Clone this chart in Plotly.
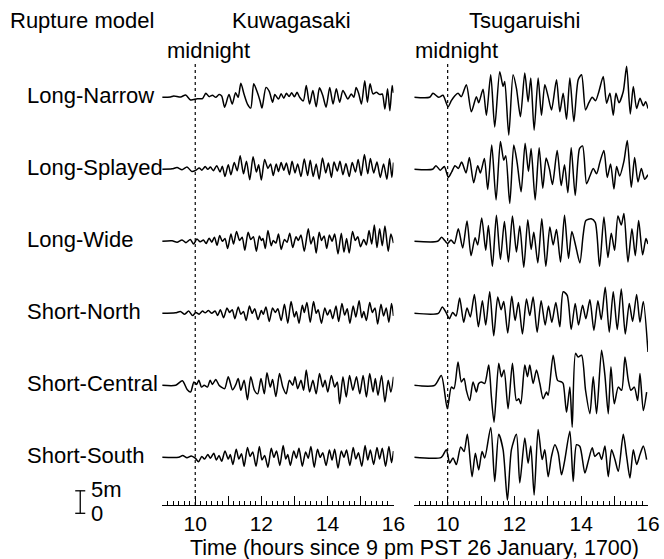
import plotly.graph_objects as go

# ---------------- data (time in hours, sea level in metres) ----------------
models = ["Long-Narrow", "Long-Splayed", "Long-Wide", "Short-North", "Short-Central", "Short-South"]
stations = ["Kuwagasaki", "Tsugaruishi"]
tick_hours = [9, 10, 11, 12, 13, 14, 15, 16]
tick_text = ["", "10", "", "12", "", "14", "", "16"]

# Kuwagasaki
kuw_ln_t = [9.0, 9.25, 9.35, 9.56, 9.71, 9.86, 10.06, 10.22, 10.32, 10.42, 10.52, 10.62, 10.72, 10.8, 10.89, 11.02, 11.12, 11.22, 11.3, 11.38, 11.48, 11.58, 11.68, 11.77, 11.87, 11.96, 12.02, 12.14, 12.24, 12.34, 12.41, 12.52, 12.6, 12.68, 12.76, 12.84, 12.92, 13.0, 13.08, 13.16, 13.27, 13.36, 13.46, 13.56, 13.66, 13.76, 13.86, 13.96, 14.07, 14.17, 14.27, 14.37, 14.47, 14.62, 14.72, 14.8, 14.87, 14.95, 15.03, 15.13, 15.21, 15.29, 15.38, 15.48, 15.59, 15.66, 15.74, 15.82, 15.89, 15.96, 16.0]
kuw_ln_h = [0.0, 0.07, 0.3, 0.07, 0.5, -0.6, -0.3, -0.3, 0.9, 0.15, 0.45, 0.0, 0.6, 0.3, -2.2, 0.6, -1.5, 1.0, 0.0, 3.1, 0.6, -1.5, -2.4, 3.0, 1.3, -0.75, -2.4, 2.2, 1.3, -1.1, 0.6, -0.4, 0.8, -0.2, 0.9, 0.2, 1.0, 0.1, 1.1, 0.0, -0.8, 2.6, -1.5, 1.5, -2.1, 2.1, 0.4, -2.2, 2.2, -1.5, 1.9, -1.1, 1.5, -0.4, 0.75, 0.0, 2.2, 0.75, -1.5, 3.7, -1.1, 3.0, 0.75, 1.1, 0.6, 0.75, -2.6, 1.9, -3.0, 2.6, 1.0]

kuw_ls_t = [9.0, 9.3, 9.45, 9.6, 9.75, 9.9, 10.02, 10.12, 10.2, 10.3, 10.38, 10.46, 10.55, 10.65, 10.75, 10.82, 10.9, 11.0, 11.08, 11.18, 11.27, 11.36, 11.46, 11.55, 11.65, 11.75, 11.85, 11.92, 12.0, 12.1, 12.2, 12.28, 12.36, 12.45, 12.52, 12.6, 12.68, 12.76, 12.85, 12.93, 13.02, 13.1, 13.2, 13.3, 13.4, 13.48, 13.57, 13.66, 13.75, 13.85, 13.95, 14.03, 14.12, 14.2, 14.3, 14.38, 14.47, 14.56, 14.66, 14.75, 14.85, 14.93, 15.02, 15.12, 15.22, 15.3, 15.4, 15.5, 15.6, 15.7, 15.8, 15.88, 15.95, 16.0]
kuw_ls_h = [0.0, 0.1, 0.4, -0.1, 0.5, -0.5, -0.2, 0.3, -0.2, 0.6, 0.0, 0.5, -0.3, 0.8, -0.6, 0.7, -1.6, 1.0, -1.2, 1.5, -0.3, 3.0, -1.0, 1.8, -2.3, 2.8, -0.6, 1.0, -2.4, 2.2, 0.2, 1.2, -1.4, 1.2, -0.5, 1.5, -0.2, 1.4, -1.2, 1.8, -0.8, 1.2, -1.6, 2.3, -1.4, 2.0, -1.6, 1.2, -2.2, 2.5, -0.8, 1.4, -1.8, 1.6, -0.4, 1.8, -1.2, 1.3, -1.6, 1.5, -0.6, 2.2, -1.4, 3.3, -1.0, 2.4, -0.8, 1.6, -1.8, 1.2, -2.2, 2.4, -1.8, 1.5]

kuw_lw_t = [9.0, 9.3, 9.45, 9.6, 9.72, 9.85, 9.95, 10.05, 10.15, 10.25, 10.33, 10.42, 10.5, 10.58, 10.66, 10.74, 10.82, 10.9, 10.98, 11.08, 11.16, 11.25, 11.34, 11.42, 11.5, 11.6, 11.68, 11.76, 11.85, 11.94, 12.0, 12.05, 12.12, 12.2, 12.3, 12.36, 12.44, 12.52, 12.6, 12.7, 12.78, 12.86, 12.95, 13.05, 13.12, 13.2, 13.3, 13.42, 13.5, 13.58, 13.66, 13.75, 13.82, 13.9, 13.98, 14.06, 14.14, 14.22, 14.32, 14.42, 14.5, 14.58, 14.66, 14.76, 14.84, 14.92, 15.0, 15.1, 15.18, 15.26, 15.34, 15.42, 15.5, 15.58, 15.66, 15.74, 15.84, 15.92, 16.0]
kuw_lw_h = [0.0, 0.1, -0.2, 0.3, -0.3, 0.4, -0.6, 0.5, -0.1, 0.3, -0.5, 0.7, -0.2, 0.9, -0.9, 1.3, 0.0, 0.6, -1.6, 1.6, -0.6, 2.2, 0.2, 0.9, -2.0, 2.0, 0.4, 1.0, -2.2, 1.2, 0.2, 0.6, -1.6, 2.4, -1.0, 0.2, -0.4, 1.6, -1.8, 0.4, -0.2, 1.8, -1.4, 1.0, 0.2, 1.4, -2.2, 2.8, -0.6, 1.0, -2.6, 2.0, 0.2, 1.2, -1.6, 1.4, 0.0, 1.6, -2.8, 1.8, -2.4, 0.6, -2.6, 2.2, 0.2, 1.0, -1.2, 0.4, -0.8, 2.4, -0.6, 3.6, -1.4, 2.8, -1.0, 3.4, -2.2, 1.6, -0.4]

kuw_sn_t = [9.0, 9.4, 9.55, 9.68, 9.8, 9.92, 10.02, 10.12, 10.22, 10.3, 10.4, 10.5, 10.6, 10.68, 10.76, 10.86, 10.96, 11.04, 11.12, 11.2, 11.3, 11.38, 11.46, 11.54, 11.64, 11.72, 11.8, 11.9, 12.0, 12.06, 12.14, 12.24, 12.34, 12.42, 12.5, 12.6, 12.7, 12.8, 12.9, 13.0, 13.06, 13.14, 13.24, 13.3, 13.38, 13.48, 13.58, 13.66, 13.72, 13.82, 13.92, 14.0, 14.08, 14.16, 14.26, 14.34, 14.44, 14.52, 14.6, 14.68, 14.78, 14.86, 14.96, 15.04, 15.1, 15.18, 15.28, 15.36, 15.44, 15.52, 15.62, 15.7, 15.78, 15.86, 15.94, 16.0]
kuw_sn_h = [0.0, 0.1, 0.4, -0.2, 0.5, -0.5, 0.2, -0.2, 0.5, 0.1, 0.6, 0.0, 0.5, -0.5, 0.8, -1.0, 1.2, 0.2, 0.8, -1.2, 1.4, -0.2, 0.4, -1.6, 1.6, 0.0, 1.0, -1.4, 0.6, -0.2, 1.4, -1.8, 1.2, 0.2, 1.0, -1.6, 2.0, -2.2, 2.6, -0.8, 0.4, -2.2, 1.8, 0.2, 2.4, -2.0, 2.6, 0.0, 0.8, -2.2, 1.2, -0.4, 0.8, -1.2, 1.6, -1.8, 2.2, -0.4, 1.0, -2.2, 1.6, -0.8, 2.8, -1.0, 0.4, -1.6, 2.4, 0.2, 1.2, -2.4, 2.0, -0.6, 1.2, -2.0, 2.2, -0.6]

kuw_sc_t = [9.0, 9.41, 9.61, 9.76, 9.86, 9.96, 10.04, 10.11, 10.19, 10.27, 10.37, 10.45, 10.52, 10.62, 10.72, 10.79, 10.89, 11.0, 11.13, 11.23, 11.3, 11.38, 11.48, 11.58, 11.68, 11.79, 11.89, 11.99, 12.09, 12.17, 12.27, 12.34, 12.44, 12.55, 12.65, 12.75, 12.85, 12.95, 13.02, 13.1, 13.2, 13.28, 13.36, 13.46, 13.56, 13.66, 13.76, 13.86, 13.93, 14.01, 14.12, 14.22, 14.3, 14.37, 14.47, 14.57, 14.67, 14.77, 14.88, 14.98, 15.08, 15.18, 15.28, 15.38, 15.45, 15.53, 15.64, 15.74, 15.84, 15.92, 16.0]
kuw_sc_h = [0.0, 0.0, 1.0, -1.0, -1.5, 0.75, 0.2, 1.1, -0.4, 0.0, -0.4, 1.1, 0.2, 1.3, 0.0, -0.4, -0.75, 1.9, -1.0, 0.2, 1.5, -1.1, 1.1, -3.2, 1.9, -1.1, -1.9, 1.5, -1.9, 2.8, -0.4, 1.3, -2.5, 2.6, -0.4, -1.9, 1.1, 0.0, 1.9, -0.75, 1.1, -1.1, 3.4, -1.5, 1.1, -1.9, 2.6, -0.4, 1.1, -1.5, 2.2, -0.4, 0.75, -4.1, 1.9, -2.6, 2.2, -1.1, 1.9, -1.9, 2.2, -2.6, 2.6, -1.5, 1.5, -2.2, 2.2, -3.7, 1.1, -1.5, 1.9]

kuw_ss_t = [9.0, 9.5, 9.62, 9.75, 9.88, 10.0, 10.1, 10.2, 10.28, 10.38, 10.46, 10.56, 10.64, 10.72, 10.8, 10.9, 11.0, 11.06, 11.14, 11.24, 11.32, 11.4, 11.48, 11.58, 11.66, 11.74, 11.84, 11.94, 12.02, 12.1, 12.2, 12.3, 12.38, 12.46, 12.56, 12.66, 12.74, 12.8, 12.88, 12.98, 13.06, 13.14, 13.24, 13.34, 13.42, 13.5, 13.6, 13.7, 13.78, 13.86, 13.96, 14.06, 14.14, 14.22, 14.32, 14.42, 14.5, 14.58, 14.68, 14.78, 14.86, 14.94, 15.04, 15.14, 15.22, 15.3, 15.4, 15.5, 15.58, 15.66, 15.76, 15.86, 15.94, 16.0]
kuw_ss_h = [0.0, 0.0, 0.4, -0.1, 0.3, -0.2, -1.0, 0.2, -0.4, 0.6, -0.2, 0.9, -0.6, 0.4, -0.9, 1.4, -0.4, 0.6, -1.6, 1.8, -0.4, 0.8, -2.0, 2.2, 0.2, 1.2, -2.0, 2.4, -0.6, 0.4, -2.2, 2.0, 0.0, 1.4, -1.8, 2.6, -0.4, 0.6, -1.8, 1.4, -0.2, 2.0, -2.0, 1.2, -0.2, 2.4, -2.2, 1.8, 0.0, 1.0, -1.8, 1.6, -0.6, 1.8, -2.4, 1.4, 0.0, 1.6, -1.8, 2.2, -0.4, 1.0, -2.0, 2.6, -0.6, 1.6, -1.6, 2.2, -0.4, 2.0, -2.0, 2.4, -1.2, 1.4]

# Tsugaruishi
tsu_ln_t = [9.0, 9.46, 9.56, 9.73, 9.86, 10.01, 10.11, 10.21, 10.31, 10.41, 10.56, 10.71, 10.86, 10.93, 11.06, 11.16, 11.29, 11.41, 11.56, 11.66, 11.71, 11.83, 11.96, 12.06, 12.18, 12.31, 12.41, 12.49, 12.59, 12.71, 12.81, 12.91, 13.01, 13.11, 13.26, 13.36, 13.46, 13.56, 13.66, 13.78, 13.91, 14.01, 14.13, 14.23, 14.33, 14.43, 14.53, 14.66, 14.76, 14.86, 14.96, 15.04, 15.13, 15.26, 15.36, 15.47, 15.56, 15.66, 15.76, 15.86, 15.93, 16.0]
tsu_ln_h = [0.0, 0.0, 0.9, 0.0, 0.45, -2.1, -0.75, 0.3, 0.9, 0.15, 2.8, -3.2, 0.15, -1.2, 1.8, -4.0, 5.0, -6.6, 5.7, 2.4, 3.5, -8.4, 5.0, 2.0, -4.3, 5.4, -1.0, 4.3, -7.3, 4.3, -4.0, 2.8, 0.15, -2.8, 3.9, -3.2, 0.9, -4.9, 4.3, -5.4, 3.9, 5.0, -2.8, -1.2, 0.0, -0.75, 1.3, 4.6, -1.3, 0.9, -4.0, 0.9, -1.2, 1.3, 6.9, -3.7, 2.4, -2.5, -0.2, -1.9, -1.0, -2.5]

tsu_ls_t = [9.0, 9.55, 9.65, 9.78, 9.9, 10.02, 10.12, 10.22, 10.32, 10.42, 10.55, 10.65, 10.78, 10.9, 10.98, 11.1, 11.2, 11.32, 11.45, 11.58, 11.68, 11.74, 11.86, 11.98, 12.08, 12.2, 12.32, 12.42, 12.5, 12.62, 12.74, 12.85, 12.95, 13.05, 13.14, 13.28, 13.4, 13.5, 13.6, 13.7, 13.82, 13.95, 14.04, 14.16, 14.26, 14.36, 14.46, 14.56, 14.68, 14.78, 14.88, 14.98, 15.06, 15.15, 15.28, 15.38, 15.5, 15.6, 15.7, 15.8, 15.9, 16.0]
tsu_ls_h = [0.0, 0.0, 0.8, -0.2, 0.6, -1.8, -0.6, 0.8, 0.2, 1.6, -0.8, 2.6, -3.0, 0.8, -0.8, 2.4, -4.5, 5.4, -6.8, 6.2, 2.0, 3.0, -7.6, 5.4, 1.5, -5.0, 5.8, -0.5, 4.6, -6.8, 4.8, -4.2, 2.5, 0.0, -3.4, 4.2, -3.6, 1.0, -5.2, 4.8, -5.8, 4.6, 5.2, -3.2, -1.5, 0.2, -1.0, 1.6, 4.2, -1.8, 1.2, -4.4, 0.6, -1.5, 1.8, 6.4, -4.0, 2.6, -2.8, 0.2, -2.2, -1.2]

tsu_lw_t = [9.0, 9.7, 9.82, 9.92, 10.0, 10.1, 10.2, 10.32, 10.45, 10.58, 10.7, 10.82, 10.9, 11.02, 11.14, 11.22, 11.34, 11.46, 11.58, 11.7, 11.82, 11.94, 12.06, 12.16, 12.28, 12.4, 12.5, 12.58, 12.7, 12.82, 12.94, 13.06, 13.16, 13.26, 13.38, 13.5, 13.62, 13.72, 13.84, 13.96, 14.06, 14.14, 14.3, 14.42, 14.55, 14.68, 14.8, 14.9, 15.0, 15.1, 15.2, 15.28, 15.4, 15.52, 15.62, 15.72, 15.84, 15.94, 16.0]
tsu_lw_h = [0.0, 0.0, 0.9, 0.1, -0.5, 0.3, -0.5, 2.8, -1.5, 4.5, -3.2, 0.8, -0.8, 5.2, -2.0, 3.5, -5.6, 5.8, -4.0, 4.4, -4.6, 5.6, -2.4, 3.4, -5.8, 4.8, -1.8, 2.0, -4.8, 5.0, -5.6, 3.2, -0.8, 2.6, -4.6, 5.8, -3.8, 2.2, -1.2, -4.8, 1.5, 4.6, 5.0, 4.2, -5.6, 5.4, -3.6, 1.8, -2.0, 5.6, 3.6, 6.2, -4.6, 2.8, -3.2, 4.6, -3.0, 0.6, -0.6]

tsu_sn_t = [9.0, 9.72, 9.84, 9.95, 10.05, 10.15, 10.25, 10.36, 10.48, 10.58, 10.68, 10.8, 10.92, 11.04, 11.14, 11.26, 11.38, 11.5, 11.6, 11.68, 11.8, 11.92, 12.02, 12.12, 12.24, 12.36, 12.46, 12.56, 12.68, 12.8, 12.92, 13.02, 13.12, 13.24, 13.36, 13.46, 13.58, 13.7, 13.82, 13.92, 14.04, 14.14, 14.26, 14.38, 14.5, 14.6, 14.72, 14.84, 14.96, 15.08, 15.2, 15.32, 15.44, 15.54, 15.66, 15.76, 15.86, 16.0]
tsu_sn_h = [0.0, 0.0, 1.4, 0.2, -1.2, 0.2, -0.6, 3.4, -2.0, 1.2, -0.8, 4.2, -3.0, 2.8, -2.6, 4.8, -5.0, 3.6, 0.8, 2.6, -4.4, 3.8, -1.6, 2.4, -4.6, 3.2, -0.5, 3.6, -4.2, 2.8, -2.6, 1.6, -2.0, 2.4, -3.0, 4.8, 4.0, -3.6, 2.2, -2.6, 1.8, -1.2, 3.0, -3.8, 2.8, -1.4, 5.8, -4.2, 4.8, -3.6, 5.4, -4.6, 2.2, -1.8, 4.2, -2.0, 2.6, -8.6]

tsu_sc_t = [9.0, 9.61, 9.81, 9.99, 10.11, 10.19, 10.31, 10.41, 10.49, 10.56, 10.66, 10.76, 10.86, 10.93, 11.01, 11.11, 11.23, 11.31, 11.39, 11.53, 11.61, 11.69, 11.81, 11.94, 12.06, 12.13, 12.19, 12.31, 12.39, 12.46, 12.56, 12.66, 12.76, 12.86, 12.96, 13.01, 13.16, 13.29, 13.41, 13.46, 13.56, 13.66, 13.73, 13.83, 13.91, 14.01, 14.13, 14.26, 14.36, 14.46, 14.61, 14.71, 14.81, 14.89, 14.99, 15.11, 15.21, 15.31, 15.41, 15.49, 15.59, 15.69, 15.76, 15.86, 15.96]
tsu_sc_h = [0.0, 0.0, 2.2, -5.2, -0.4, -0.75, 5.2, 0.75, 1.5, -1.1, -3.4, 0.75, -1.5, 0.4, 0.75, 0.4, 4.5, -2.6, -8.2, 4.9, 1.9, 3.4, -5.2, 4.9, -3.4, -3.0, -4.1, 4.5, 1.9, 4.5, 0.4, 3.4, 0.4, -3.0, -1.5, -2.2, 6.7, 1.1, 0.75, 0.4, -6.0, -0.4, -9.3, 7.1, 6.3, 6.7, -1.1, -6.3, 1.9, -6.3, 7.8, 2.2, -6.3, 4.1, -4.1, -0.4, -1.1, 6.3, 1.1, -1.1, -0.4, -3.4, 2.6, -5.6, -1.5]

tsu_ss_t = [9.0, 9.81, 9.96, 10.06, 10.16, 10.26, 10.39, 10.49, 10.59, 10.73, 10.83, 10.93, 11.03, 11.11, 11.29, 11.41, 11.53, 11.66, 11.79, 11.91, 12.06, 12.16, 12.31, 12.41, 12.49, 12.59, 12.71, 12.83, 12.91, 13.01, 13.11, 13.21, 13.31, 13.41, 13.51, 13.66, 13.76, 13.86, 13.96, 14.11, 14.21, 14.33, 14.41, 14.53, 14.61, 14.71, 14.81, 14.91, 15.01, 15.11, 15.26, 15.36, 15.46, 15.56, 15.66, 15.76, 15.86, 15.96]
tsu_ss_h = [0.0, 0.0, 1.7, -1.3, -0.15, -1.6, 2.3, 1.3, 5.1, -4.3, 0.9, -2.8, 1.3, -0.15, 6.6, -5.4, 5.1, 1.7, -9.5, 1.7, 5.1, -5.7, 4.3, -1.3, 2.5, -8.4, 6.2, -0.5, 1.7, -4.3, 0.2, 2.8, 1.0, -3.9, -0.5, 5.8, -5.4, 2.8, 2.4, -3.5, -0.9, 2.1, 0.2, 1.0, -0.5, 2.5, -4.3, 1.7, -0.5, -3.1, 5.1, 0.2, -4.6, 1.7, -1.6, 0.6, 2.5, -0.5]

kuw_series = [(kuw_ln_t, kuw_ln_h), (kuw_ls_t, kuw_ls_h), (kuw_lw_t, kuw_lw_h),
              (kuw_sn_t, kuw_sn_h), (kuw_sc_t, kuw_sc_h), (kuw_ss_t, kuw_ss_h)]
tsu_series = [(tsu_ln_t, tsu_ln_h), (tsu_ls_t, tsu_ls_h), (tsu_lw_t, tsu_lw_h),
              (tsu_sn_t, tsu_sn_h), (tsu_sc_t, tsu_sc_h), (tsu_ss_t, tsu_ss_h)]

row_gap = 16.0        # metres between stacked traces
scale_bar_m = 5.0
midnight = 10.0

# ---------------- layout geometry ----------------
W, H = 664, 559
W_EFF = 650          # width the page actually lays the figure out at
plot_top_px, plot_bot_px = 60, 505
px_per_m = 4.5
y_min = -90.6
y_max = y_min + (plot_bot_px - plot_top_px) / px_per_m

def px_x(p):
    return p / W_EFF

def px_y(p):
    return 1 - p / H

ydom = [px_y(plot_bot_px), px_y(plot_top_px)]
FONT = "Liberation Sans, Arial, Helvetica, sans-serif"

fig = go.Figure()
for col, series in enumerate([kuw_series, tsu_series]):
    xa = "x" if col == 0 else "x2"
    ya = "y" if col == 0 else "y2"
    for i, (t, h) in enumerate(series):
        fig.add_trace(go.Scatter(
            x=t, y=[v - row_gap * i for v in h], mode="lines",
            line=dict(color="black", width=1.5, shape="spline", smoothing=0.7),
            xaxis=xa, yaxis=ya, showlegend=False, hoverinfo="skip"))

axis_common = dict(
    range=[9, 16], showline=True, linecolor="black", linewidth=1,
    ticks="inside", ticklen=9, tickwidth=1, tickcolor="black",
    tickvals=tick_hours, ticktext=tick_text,
    tickfont=dict(size=21, color="black", family=FONT),
    minor=dict(ticks="inside", ticklen=4, tickwidth=1, tickcolor="black",
               dtick=1 / 6, tick0=9, showgrid=False),
    showgrid=False, zeroline=False, fixedrange=True)
yaxis_common = dict(range=[y_min, y_max], domain=ydom, visible=False, fixedrange=True)

fig.update_layout(
    width=W, height=H, autosize=False, margin=dict(l=0, r=0, t=0, b=0),
    paper_bgcolor="white", plot_bgcolor="rgba(0,0,0,0)",
    font=dict(family=FONT, color="black", size=22),
    xaxis=dict(domain=[px_x(161.7), px_x(392.3)], anchor="y", **axis_common),
    xaxis2=dict(domain=[px_x(413), px_x(646)], anchor="y2", **axis_common),
    yaxis=dict(anchor="x", **yaxis_common),
    yaxis2=dict(anchor="x2", **yaxis_common),
)

shapes = []
for xr in ["x", "x2"]:
    shapes.append(dict(type="line", xref=xr, yref="paper", x0=midnight, x1=midnight,
                       y0=ydom[0], y1=px_y(63), line=dict(color="black", width=1.2, dash="dot")))
# scale bar
bar_bottom_px = 513.3
bar_top_px = bar_bottom_px - scale_bar_m * px_per_m
bx = 80
shapes.append(dict(type="line", xref="paper", yref="paper", x0=px_x(bx), x1=px_x(bx),
                   y0=px_y(bar_bottom_px), y1=px_y(bar_top_px), line=dict(color="black", width=1.3)))
for yy in [bar_bottom_px, bar_top_px]:
    shapes.append(dict(type="line", xref="paper", yref="paper", x0=px_x(bx - 5), x1=px_x(bx + 5),
                       y0=px_y(yy), y1=px_y(yy), line=dict(color="black", width=1.3)))
fig.update_layout(shapes=shapes)

ann = []
def add_text(text, x, y, xanchor="center", size=22, yref="paper", yval=None):
    ann.append(dict(text=text, x=x, y=y if yval is None else yval, xref="paper", yref=yref,
                    xanchor=xanchor, yanchor="middle", showarrow=False,
                    font=dict(size=size, family=FONT, color="black")))

add_text("Rupture model", px_x(8), px_y(20), xanchor="left")
add_text(stations[0], px_x(291), px_y(20))
add_text(stations[1], px_x(523), px_y(20))
add_text("midnight", px_x(208), px_y(50))
add_text("midnight", px_x(455), px_y(50))
for i, m in enumerate(models):
    add_text(m, px_x(25), None, xanchor="left", yref="y", yval=-row_gap * i + 0.3)
add_text("5m", px_x(89), px_y(489), xanchor="left")
add_text("0", px_x(89), px_y(513), xanchor="left")
add_text("Time (hours since 9 pm PST 26 January, 1700)", px_x(413), px_y(547.5), size=21.5)
fig.update_layout(annotations=ann)

fig.write_html(
    "out.html",
    config={"displayModeBar": False, "responsive": False},
    default_width="664px", default_height="559px",
    post_script="document.body.style.margin='0';document.body.style.padding='0';document.body.style.overflow='hidden';",
)
